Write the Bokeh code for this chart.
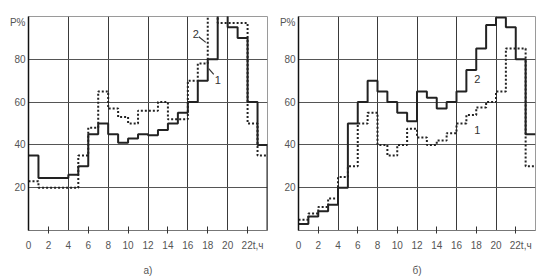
from bokeh.plotting import figure
from bokeh.layouts import row
from bokeh.models import FixedTicker, Range1d, ColumnDataSource
from bokeh.core.properties import value
from bokeh.embed import file_html
from bokeh.resources import INLINE

# ---------------- data ----------------
hours = list(range(0, 25))                       # hour edges 0..24
x_tick_values = [0, 2, 4, 6, 8, 10, 12, 14, 16, 18, 20, 22.5]
x_tick_labels = ["0", "2", "4", "6", "8", "10", "12", "14", "16", "18", "20", "22t,ч"]
x_mark_values = [2, 6, 10, 14, 18, 22]
y_tick_values = [20, 40, 60, 80, 97]
y_tick_labels = ["20", "40", "60", "80", "P%"]

# panel а): curve 1 (solid) and curve 2 (dashed), hourly P %
a_curve1 = [35, 24.5, 24.5, 24.5, 26, 30, 45, 50, 45, 41, 43, 45,
            44.5, 47, 50, 55, 60, 70, 80, 105, 95, 90, 60, 40]
a_curve2 = [23, 20, 20, 20, 20, 35, 48, 65, 57, 53, 50, 56,
            56, 60, 52, 52, 70, 78, 105, 97, 97, 97, 50, 35]

# panel б): curve 2 (solid) and curve 1 (dashed)
b_curve2 = [3, 6.5, 9, 12, 20, 50, 60, 70, 65, 60, 55, 51,
            65, 62, 57, 60, 65, 75, 85, 96, 99.5, 95, 80, 45]
b_curve1 = [5, 8, 11, 15, 25, 30, 50, 55, 40, 35, 40, 47.5,
            43.5, 40, 42, 45.5, 50, 54, 57.5, 60, 65, 85, 85, 30]

# curve labels and leader lines
a_lab_text = ["2", "1"]
a_lab_x = [16.8, 19.0]
a_lab_y = [91.8, 70.2]
a_lead_x0 = [17.1, 18.6]
a_lead_y0 = [90.5, 73.0]
a_lead_x1 = [17.8, 18.1]
a_lead_y1 = [87.9, 75.6]

b_lab_text = ["2", "1"]
b_lab_x = [18.1, 18.1]
b_lab_y = [70.7, 47.1]

panel_titles = ["а)", "б)"]

FONT = "Liberation Sans"
INK = "#222222"
GRID = "#555555"
TXT = "#555555"


def steps(vals, edges, drop_to=None):
    xs, ys = [], []
    for i, v in enumerate(vals):
        xs += [edges[i], edges[i + 1]]
        ys += [v, v]
    if drop_to is not None:
        xs.append(edges[len(vals)])
        ys.append(drop_to)
    return xs, ys


def make_panel(left, right, title, lab_text, lab_x, lab_y):
    p = figure(width=276, height=278, output_backend="svg", toolbar_location=None,
               x_range=Range1d(0, 24), y_range=Range1d(0, 100),
               min_border_left=left, min_border_right=right,
               min_border_top=16, min_border_bottom=10)
    p.background_fill_color = "white"
    p.border_fill_color = "white"
    p.outline_line_color = "#9a9a9a"
    p.outline_line_width = 1

    # x axis
    p.xaxis.ticker = FixedTicker(ticks=x_tick_values, minor_ticks=x_mark_values)
    p.xaxis.major_label_overrides = {v: t for v, t in zip(x_tick_values, x_tick_labels)}
    p.xaxis.major_tick_line_color = None
    p.xaxis.minor_tick_line_color = "#333333"
    p.xaxis.minor_tick_line_width = 1
    p.xaxis.minor_tick_in = 4
    p.xaxis.minor_tick_out = 3
    p.xaxis.major_tick_in = 0
    p.xaxis.major_tick_out = 3
    p.xaxis.major_label_standoff = 6
    p.xaxis.axis_line_color = "#777777"
    p.xaxis.major_label_text_font = FONT
    p.xaxis.major_label_text_font_size = "10px"
    p.xaxis.major_label_text_color = TXT
    p.xaxis.axis_label = title
    p.xaxis.axis_label_standoff = 11
    p.xaxis.axis_label_text_font = FONT
    p.xaxis.axis_label_text_font_style = "normal"
    p.xaxis.axis_label_text_font_size = "10px"
    p.xaxis.axis_label_text_color = TXT

    # y axis
    p.yaxis.ticker = FixedTicker(ticks=y_tick_values)
    p.yaxis.major_label_overrides = {v: t for v, t in zip(y_tick_values, y_tick_labels)}
    p.yaxis.major_tick_line_color = None
    p.yaxis.minor_tick_line_color = None
    p.yaxis.major_tick_in = 0
    p.yaxis.major_tick_out = 0
    p.yaxis.major_label_standoff = 3
    p.yaxis.axis_line_color = "#111111"
    p.yaxis.axis_line_width = 1.5
    p.yaxis.major_label_text_font = FONT
    p.yaxis.major_label_text_font_size = "10px"
    p.yaxis.major_label_text_color = TXT

    # grids
    p.xgrid.ticker = FixedTicker(ticks=[4, 8, 12, 16, 20])
    p.ygrid.ticker = FixedTicker(ticks=[20, 40, 60, 80])
    p.xgrid.grid_line_color = "#3a3a3a"
    p.ygrid.grid_line_color = GRID
    p.xgrid.grid_line_width = 1
    p.ygrid.grid_line_width = 1

    src = ColumnDataSource(dict(x=lab_x, y=lab_y, t=lab_text))
    p.text(x="x", y="y", text="t", source=src, text_align="center", text_baseline="middle",
           text_font=value(FONT), text_font_size="11px", text_color="#333333")
    return p


pa = make_panel(28, 9, panel_titles[0], a_lab_text, a_lab_x, a_lab_y)
xs, ys = steps(a_curve2, hours)
pa.line(xs, ys, line_color=INK, line_width=2, line_dash="2 2")
xs, ys = steps(a_curve1, hours, drop_to=0)
pa.line(xs, ys, line_color=INK, line_width=2)
pa.segment(x0=a_lead_x0, y0=a_lead_y0, x1=a_lead_x1, y1=a_lead_y1,
           line_color="#333333", line_width=1.2)

pb = make_panel(19, 17, panel_titles[1], b_lab_text, b_lab_x, b_lab_y)
xs, ys = steps(b_curve1, hours)
pb.line(xs, ys, line_color=INK, line_width=2, line_dash="2 2")
xs, ys = steps(b_curve2, hours)
pb.line(xs, ys, line_color=INK, line_width=2)

layout = row(pa, pb, spacing=0)
open("out.html", "w").write(file_html(layout, INLINE))
